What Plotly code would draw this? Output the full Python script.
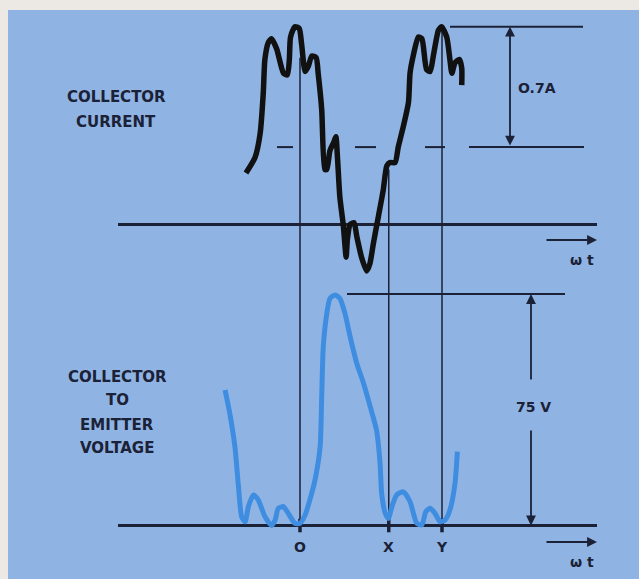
import plotly.graph_objects as go

# ---- waveform data -------------------------------------------------------
# phase angle (degrees of one cycle, O = 0, Y = 360) and collector current (A)
current_wt = [-137, -114, -101, -93, -89, -80, -72, -59, -42, -32, -27, -24, -13, -2,
              4, 13, 21, 30, 41, 46, 55, 63, 68, 76, 86, 91, 95, 101, 110, 117, 120,
              127, 137, 144, 156, 169, 177, 186, 199, 211, 220, 228, 241, 249, 262,
              275, 279, 287, 300, 309, 321, 330, 338, 351, 359, 372, 380, 385, 393,
              404, 410, 410]
current_amps = [0.30, 0.39, 0.53, 0.77, 0.96, 1.06, 1.08, 1.02, 0.88, 0.87, 0.96, 1.09,
                1.15, 1.14, 1.05, 0.89, 0.92, 0.98, 0.97, 0.88, 0.67, 0.32, 0.32, 0.43,
                0.48, 0.51, 0.39, 0.16, -0.01, -0.19, -0.09, 0.00, 0.01, -0.07, -0.19,
                -0.27, -0.23, -0.11, 0.05, 0.20, 0.34, 0.36, 0.36, 0.45, 0.57, 0.71,
                0.88, 0.98, 1.09, 1.08, 0.90, 0.89, 0.98, 1.13, 1.15, 1.09, 0.96, 0.88,
                0.94, 0.96, 0.91, 0.81]

# phase angle (degrees) and collector-to-emitter voltage (V)
voltage_wt = [-190, -178, -165, -156, -148, -139, -131, -118, -106, -89, -72, -63, -55,
              -42, -30, -13, 0, 13, 25, 38, 51, 55, 59, 68, 76, 89, 101, 114, 127, 144,
              161, 178, 194, 203, 207, 216, 224, 233, 245, 262, 279, 296, 309, 319, 330,
              342, 355, 368, 380, 393, 399]
voltage_volts = [43.9, 36.3, 25.5, 12.6, 2.9, 1.2, 6.1, 9.9, 8.3, 2.9, 0.0, 1.8, 5.6,
                 6.1, 4.0, 0.7, 0.7, 3.4, 8.3, 14.7, 25.5, 41.7, 57.9, 68.7, 73.6, 74.7,
                 73.6, 68.7, 61.2, 52.5, 46.1, 38.5, 30.9, 20.1, 10.4, 4.0, 2.3, 6.1,
                 9.9, 10.9, 7.7, 0.7, 0.2, 4.5, 5.6, 4.0, 1.2, 1.8, 5.0, 13.7, 23.9]

phase_labels = ["O", "X", "Y"]
phase_deg = [0, 225, 360]

current_mean = 0.45      # dashed average level
current_swing = 0.7      # peak above average, A
voltage_peak = 75        # V

# ---- page geometry (pixels) ---------------------------------------------
W, H = 639, 579
O_PX = 300
DEG_PER_PX = 360 / 142
I_ZERO_PX, PX_PER_A = 224.5, 172.0
V_ZERO_PX, PX_PER_V = 525.5, 3.087

x_range = [(0 - O_PX) * DEG_PER_PX, (W - O_PX) * DEG_PER_PX]
i_range = [(I_ZERO_PX - H) / PX_PER_A, I_ZERO_PX / PX_PER_A]
v_range = [(V_ZERO_PX - H) / PX_PER_V, V_ZERO_PX / PX_PER_V]


def deg(px):
    return (px - O_PX) * DEG_PER_PX


def amps(py):
    return (I_ZERO_PX - py) / PX_PER_A


def volts(py):
    return (V_ZERO_PX - py) / PX_PER_V


def amps_as_volts(a):
    return volts(I_ZERO_PX - a * PX_PER_A)


INK = "#1b2136"
PAPER = "#ece9e4"
SHEET = "#8fb4e3"
FONT = "DejaVu Sans"

fig = go.Figure()

fig.add_trace(go.Scatter(x=voltage_wt, y=voltage_volts, yaxis="y2", mode="lines",
                         line=dict(color="#3f8de0", width=5, shape="spline", smoothing=0.6),
                         hoverinfo="skip"))
fig.add_trace(go.Scatter(x=current_wt, y=current_amps, yaxis="y", mode="lines",
                         line=dict(color="#111111", width=5.5, shape="spline", smoothing=0.6),
                         hoverinfo="skip"))

shapes = []
# blue sheet
shapes.append(dict(type="rect", xref="paper", yref="paper", x0=8 / W, x1=1,
                   y0=0, y1=1 - 10 / H, fillcolor=SHEET, line=dict(width=0), layer="below"))


def hline(x0, x1, y, yref, width=2):
    shapes.append(dict(type="line", xref="x", yref=yref, x0=x0, x1=x1, y0=y, y1=y,
                       line=dict(color=INK, width=width), layer="below"))


def vline(x, y0, y1, yref, width=1.5):
    shapes.append(dict(type="line", xref="x", yref=yref, x0=x, x1=x, y0=y0, y1=y1,
                       line=dict(color=INK, width=width), layer="below"))


# time axes
hline(deg(118), deg(597), 0, "y", width=3)
hline(deg(118), deg(597), 0, "y2", width=3)

# phase markers O, X, Y
tops = [0.97, 0.32, 1.13]
for d, top in zip(phase_deg, tops):
    vline(d, 0, amps_as_volts(top), "y2")
    vline(d, -2.2, 2.2, "y2", width=3.5)

# current dimension 0.7 A
hline(deg(450), deg(583), current_mean + current_swing, "y")
hline(deg(469), deg(584), current_mean, "y")
for a, b in [(277, 293), (355, 376), (425, 445)]:
    hline(deg(a), deg(b), current_mean, "y")

# voltage dimension 75 V
hline(deg(347), deg(565), voltage_peak, "y2")

fig.update_layout(shapes=shapes)

ann = []


def arrow(x_head, y_head, x_tail, y_tail, yref, side="end"):
    ann.append(dict(x=x_head, y=y_head, ax=x_tail, ay=y_tail, xref="x", yref=yref,
                    axref="x", ayref=yref, showarrow=True, arrowhead=2, arrowsize=1.1,
                    arrowwidth=1.8, arrowcolor=INK, arrowside=side, text=""))


def label(x, y, text, yref, size=14):
    ann.append(dict(x=x, y=y, xref="x", yref=yref, text=text, showarrow=False,
                    font=dict(family=FONT, size=size, color=INK, weight="bold"),
                    xanchor="center", yanchor="middle"))


arrow(deg(510), current_mean + current_swing, deg(510), current_mean, "y", side="end+start")
label(deg(537), amps(88), f"{current_swing:.1f}A".replace("0.", "O."), "y")

arrow(deg(531), voltage_peak, deg(531), volts(381), "y2")
arrow(deg(531), 0, deg(531), volts(429), "y2")
label(deg(533), volts(407), f"{voltage_peak} V", "y2")

# ωt direction arrows
arrow(deg(597), amps(240), deg(545), amps(240), "y")
label(deg(582), amps(260), "ω t", "y")
arrow(deg(597), volts(542), deg(545), volts(542), "y2")
label(deg(582), volts(562), "ω t", "y2")

# phase labels
for name, d in zip(phase_labels, phase_deg):
    label(d, volts(547), name, "y2")

# trace titles
label(deg(116), amps(97), "COLLECTOR", "y", size=15)
label(deg(116), amps(122), "CURRENT", "y", size=15)
for text, py in [("COLLECTOR", 377), ("TO", 400), ("EMITTER", 425), ("VOLTAGE", 448)]:
    label(deg(117), volts(py), text, "y2", size=15)

fig.update_layout(
    annotations=ann,
    width=W, height=H,
    margin=dict(l=0, r=0, t=0, b=0),
    paper_bgcolor=PAPER, plot_bgcolor="rgba(0,0,0,0)",
    showlegend=False,
    xaxis=dict(range=x_range, visible=False, fixedrange=True),
    yaxis=dict(range=i_range, visible=False, fixedrange=True),
    yaxis2=dict(range=v_range, visible=False, fixedrange=True, overlaying="y"),
)

fig.write_html("out.html", config={"displayModeBar": False})
